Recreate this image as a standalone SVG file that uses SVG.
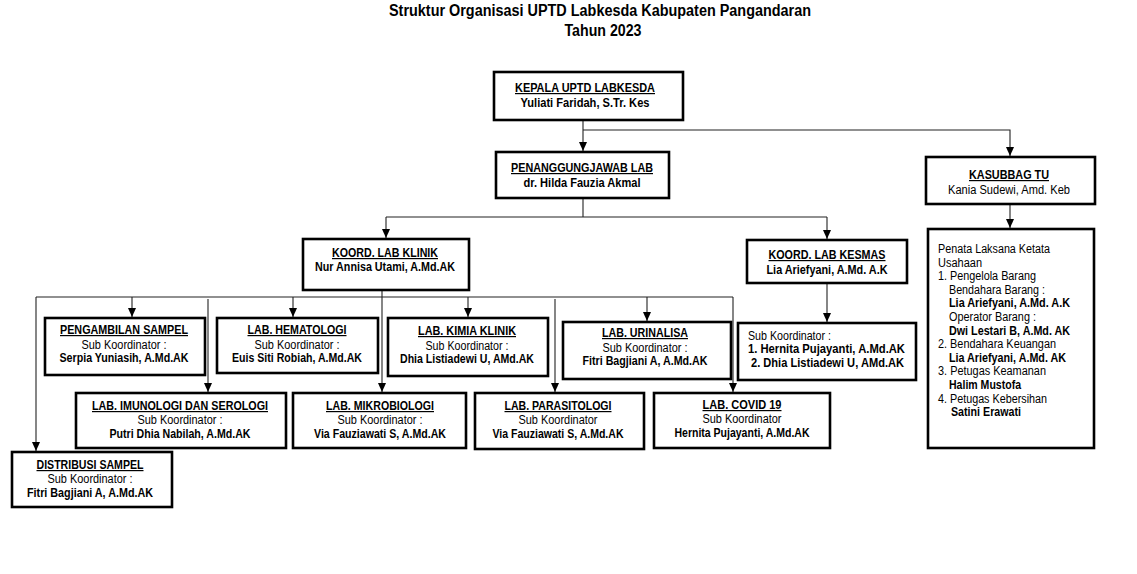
<svg xmlns="http://www.w3.org/2000/svg" width="1137" height="574" viewBox="0 0 1137 574">
<style>
text{font-family:"Liberation Sans",Arial,sans-serif;fill:#000;}
.title{font-size:16px;font-weight:bold;text-anchor:middle;}
.h{font-size:12px;font-weight:bold;text-anchor:middle;text-decoration:underline;}
.b{font-size:12px;font-weight:bold;text-anchor:middle;}
.r{font-size:12px;text-anchor:middle;}
.rl{font-size:12px;}
.bl{font-size:12px;font-weight:bold;}
.box{fill:#fff;stroke:#000;stroke-width:2.6;}
.con{fill:none;stroke:#222;stroke-width:1.1;}
</style>
<defs>
<marker id="arr" markerUnits="userSpaceOnUse" markerWidth="9" markerHeight="8" refX="9" refY="4" orient="auto" viewBox="0 0 9 8">
<path d="M0,0 L9,4 L0,8 z" fill="#000"/>
</marker>
</defs>
<rect width="1137" height="574" fill="#fff"/>
<g id="title">
<text class="title" x="600" y="16" textLength="422" lengthAdjust="spacingAndGlyphs">Struktur Organisasi UPTD Labkesda Kabupaten Pangandaran</text>
<text class="title" x="603" y="36" textLength="77" lengthAdjust="spacingAndGlyphs">Tahun 2023</text>
</g>
<g id="connectors">
<path class="con" d="M583,120 V151" marker-end="url(#arr)"/>
<path class="con" d="M583,130 H1010 V156" marker-end="url(#arr)"/>
<path class="con" d="M583,198 V217"/>
<path class="con" d="M386,217 H827"/>
<path class="con" d="M386,217 V238" marker-end="url(#arr)"/>
<path class="con" d="M827,217 V239" marker-end="url(#arr)"/>
<path class="con" d="M1010,204 V228" marker-end="url(#arr)"/>
<path class="con" d="M827,283 V322" marker-end="url(#arr)"/>
<path class="con" d="M382,290 V392" marker-end="url(#arr)"/>
<path class="con" d="M36,297 H733"/>
<path class="con" d="M36,297 V451" marker-end="url(#arr)"/>
<path class="con" d="M132,297 V317" marker-end="url(#arr)"/>
<path class="con" d="M208,299 V392" marker-end="url(#arr)"/>
<path class="con" d="M293,297 V317" marker-end="url(#arr)"/>
<path class="con" d="M468,297 V317" marker-end="url(#arr)"/>
<path class="con" d="M555,299 V392" marker-end="url(#arr)"/>
<path class="con" d="M647,297 V321" marker-end="url(#arr)"/>
<path class="con" d="M733,297 V392" marker-end="url(#arr)"/>
</g>
<g id="kepala">
<rect class="box" x="494" y="72" width="189" height="48"/>
<text class="h" x="585" y="92" textLength="140" lengthAdjust="spacingAndGlyphs">KEPALA UPTD LABKESDA</text>
<text class="b" x="585" y="107" textLength="129" lengthAdjust="spacingAndGlyphs">Yuliati Faridah, S.Tr. Kes</text>
</g>
<g id="penanggungjawab">
<rect class="box" x="496" y="152" width="173" height="46"/>
<text class="h" x="582" y="172" textLength="142" lengthAdjust="spacingAndGlyphs">PENANGGUNGJAWAB LAB</text>
<text class="b" x="582" y="187" textLength="117" lengthAdjust="spacingAndGlyphs">dr. Hilda Fauzia Akmal</text>
</g>
<g id="kasubbag">
<rect class="box" x="926" y="157" width="169" height="47"/>
<text class="h" x="1009" y="179" textLength="80" lengthAdjust="spacingAndGlyphs">KASUBBAG TU</text>
<text class="r" x="1009" y="194" textLength="122" lengthAdjust="spacingAndGlyphs">Kania Sudewi, Amd. Keb</text>
</g>
<g id="tu-list">
<rect class="box" x="928" y="229" width="166" height="219"/>
<text class="rl" x="938" y="253" textLength="112" lengthAdjust="spacingAndGlyphs">Penata Laksana Ketata</text>
<text class="rl" x="938" y="266.6" textLength="44" lengthAdjust="spacingAndGlyphs">Usahaan</text>
<text class="rl" x="938" y="280.2" textLength="98" lengthAdjust="spacingAndGlyphs">1. Pengelola Barang</text>
<text class="rl" x="949" y="293.8" textLength="96" lengthAdjust="spacingAndGlyphs">Bendahara Barang :</text>
<text class="bl" x="949" y="307.4" textLength="121" lengthAdjust="spacingAndGlyphs">Lia Ariefyani, A.Md. A.K</text>
<text class="rl" x="949" y="321" textLength="87" lengthAdjust="spacingAndGlyphs">Operator Barang :</text>
<text class="bl" x="949" y="334.6" textLength="121" lengthAdjust="spacingAndGlyphs">Dwi Lestari B, A.Md. AK</text>
<text class="rl" x="938" y="348.2" textLength="118" lengthAdjust="spacingAndGlyphs">2. Bendahara Keuangan</text>
<text class="bl" x="949" y="361.8" textLength="117" lengthAdjust="spacingAndGlyphs">Lia Ariefyani, A.Md. AK</text>
<text class="rl" x="938" y="375.4" textLength="108" lengthAdjust="spacingAndGlyphs">3. Petugas Keamanan</text>
<text class="bl" x="949" y="389" textLength="72" lengthAdjust="spacingAndGlyphs">Halim Mustofa</text>
<text class="rl" x="938" y="402.6" textLength="109" lengthAdjust="spacingAndGlyphs">4. Petugas Kebersihan</text>
<text class="bl" x="951" y="416.2" textLength="70" lengthAdjust="spacingAndGlyphs">Satini Erawati</text>
</g>
<g id="koord-klinik">
<rect class="box" x="303" y="239" width="166" height="51"/>
<text class="h" x="385" y="257" textLength="106" lengthAdjust="spacingAndGlyphs">KOORD. LAB KLINIK</text>
<text class="b" x="385" y="271" textLength="140" lengthAdjust="spacingAndGlyphs">Nur Annisa Utami, A.Md.AK</text>
</g>
<g id="koord-kesmas">
<rect class="box" x="747" y="240" width="160" height="43"/>
<text class="h" x="827" y="259" textLength="117" lengthAdjust="spacingAndGlyphs">KOORD. LAB KESMAS</text>
<text class="b" x="827" y="274" textLength="121" lengthAdjust="spacingAndGlyphs">Lia Ariefyani, A.Md. A.K</text>
</g>
<g id="kesmas-sub">
<rect class="box" x="738" y="323" width="178" height="57"/>
<text class="rl" x="748" y="340" textLength="83" lengthAdjust="spacingAndGlyphs">Sub Koordinator :</text>
<text class="bl" x="748" y="353" textLength="157" lengthAdjust="spacingAndGlyphs">1.   Hernita Pujayanti, A.Md.AK</text>
<text class="bl" x="751" y="367" textLength="153" lengthAdjust="spacingAndGlyphs">2.   Dhia Listiadewi U, AMd.AK</text>
</g>
<g id="pengambilan">
<rect class="box" x="45" y="318" width="160" height="57"/>
<text class="h" x="124" y="334" textLength="128" lengthAdjust="spacingAndGlyphs">PENGAMBILAN SAMPEL</text>
<text class="r" x="124" y="349" textLength="85" lengthAdjust="spacingAndGlyphs">Sub Koordinator :</text>
<text class="b" x="124" y="362" textLength="129" lengthAdjust="spacingAndGlyphs">Serpia Yuniasih, A.Md.AK</text>
</g>
<g id="hematologi">
<rect class="box" x="217" y="318" width="161" height="55"/>
<text class="h" x="297" y="334" textLength="99" lengthAdjust="spacingAndGlyphs">LAB. HEMATOLOGI</text>
<text class="r" x="297" y="349" textLength="85" lengthAdjust="spacingAndGlyphs">Sub Koordinator :</text>
<text class="b" x="297" y="362" textLength="130" lengthAdjust="spacingAndGlyphs">Euis Siti Robiah, A.Md.AK</text>
</g>
<g id="kimia">
<rect class="box" x="388" y="318" width="160" height="58"/>
<text class="h" x="467" y="335" textLength="98" lengthAdjust="spacingAndGlyphs">LAB. KIMIA KLINIK</text>
<text class="r" x="467" y="350" textLength="83" lengthAdjust="spacingAndGlyphs">Sub Koordinator :</text>
<text class="b" x="467" y="363" textLength="134" lengthAdjust="spacingAndGlyphs">Dhia Listiadewi U, AMd.AK</text>
</g>
<g id="urinalisa">
<rect class="box" x="563" y="322" width="168" height="57"/>
<text class="h" x="645" y="337" textLength="86" lengthAdjust="spacingAndGlyphs">LAB. URINALISA</text>
<text class="r" x="645" y="352" textLength="85" lengthAdjust="spacingAndGlyphs">Sub Koordinator :</text>
<text class="b" x="645" y="365" textLength="125" lengthAdjust="spacingAndGlyphs">Fitri Bagjiani A, A.Md.AK</text>
</g>
<g id="imunologi">
<rect class="box" x="76" y="393" width="210" height="55"/>
<text class="h" x="180" y="410" textLength="176" lengthAdjust="spacingAndGlyphs">LAB. IMUNOLOGI DAN SEROLOGI</text>
<text class="r" x="180" y="424" textLength="85" lengthAdjust="spacingAndGlyphs">Sub Koordinator :</text>
<text class="b" x="180" y="438" textLength="141" lengthAdjust="spacingAndGlyphs">Putri Dhia Nabilah, A.Md.AK</text>
</g>
<g id="mikrobiologi">
<rect class="box" x="293" y="393" width="173" height="55"/>
<text class="h" x="380" y="410" textLength="108" lengthAdjust="spacingAndGlyphs">LAB. MIKROBIOLOGI</text>
<text class="r" x="380" y="424" textLength="85" lengthAdjust="spacingAndGlyphs">Sub Koordinator :</text>
<text class="b" x="380" y="438" textLength="132" lengthAdjust="spacingAndGlyphs">Via Fauziawati S, A.Md.AK</text>
</g>
<g id="parasitologi">
<rect class="box" x="475" y="393" width="169" height="56"/>
<text class="h" x="558" y="410" textLength="107" lengthAdjust="spacingAndGlyphs">LAB. PARASITOLOGI</text>
<text class="r" x="558" y="424" textLength="79" lengthAdjust="spacingAndGlyphs">Sub Koordinator</text>
<text class="b" x="558" y="438" textLength="131" lengthAdjust="spacingAndGlyphs">Via Fauziawati S, A.Md.AK</text>
</g>
<g id="covid">
<rect class="box" x="654" y="393" width="176" height="55"/>
<text class="h" x="742" y="409" textLength="79" lengthAdjust="spacingAndGlyphs">LAB. COVID 19</text>
<text class="r" x="742" y="423" textLength="79" lengthAdjust="spacingAndGlyphs">Sub Koordinator</text>
<text class="b" x="742" y="437" textLength="135" lengthAdjust="spacingAndGlyphs">Hernita Pujayanti, A.Md.AK</text>
</g>
<g id="distribusi">
<rect class="box" x="12" y="452" width="160" height="55"/>
<text class="h" x="90" y="469" textLength="107" lengthAdjust="spacingAndGlyphs">DISTRIBUSI SAMPEL</text>
<text class="r" x="90" y="483" textLength="85" lengthAdjust="spacingAndGlyphs">Sub Koordinator :</text>
<text class="b" x="90" y="497" textLength="126" lengthAdjust="spacingAndGlyphs">Fitri Bagjiani A, A.Md.AK</text>
</g>
</svg>
